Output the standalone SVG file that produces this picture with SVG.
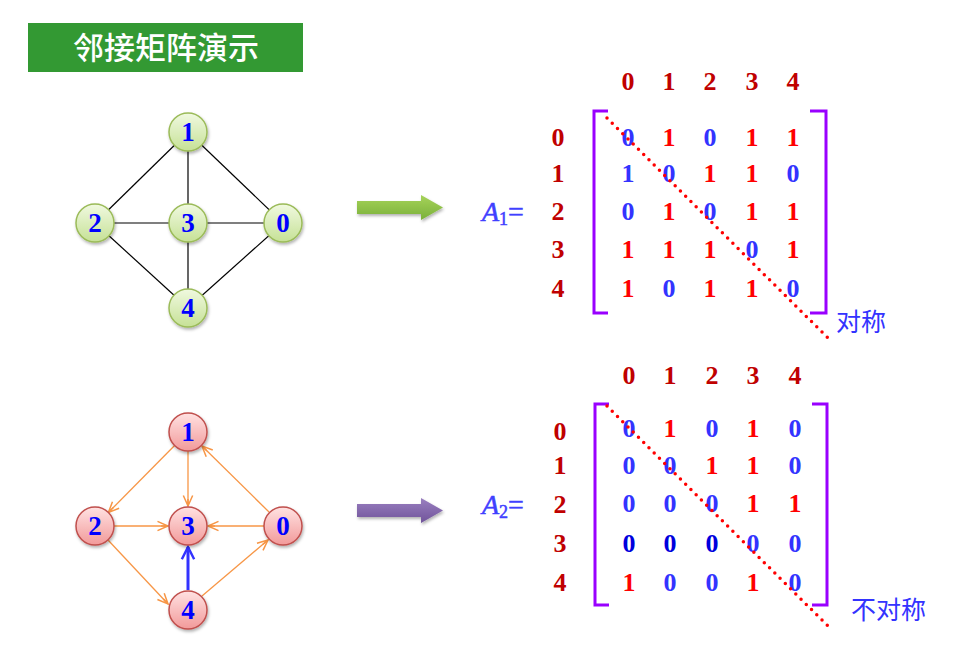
<svg xmlns="http://www.w3.org/2000/svg" width="954" height="659" viewBox="0 0 954 659">
<style>
.title{font-family:"Noto Sans CJK SC","Noto Sans",sans-serif;font-size:31px;fill:#fff;font-weight:500}
.nl{font-family:"Liberation Serif",serif;font-size:27px;font-weight:bold;fill:#0000ff;text-anchor:middle}
.hd{font-family:"Liberation Serif",serif;font-size:26px;font-weight:bold;fill:#c00000;text-anchor:middle}
.one{font-family:"Liberation Serif",serif;font-size:26px;font-weight:bold;fill:#ff0000;text-anchor:middle}
.zero{font-family:"Liberation Serif",serif;font-size:26px;font-weight:bold;fill:#3333ff;text-anchor:middle}
.zd{fill:#0000dd}
.an{font-family:"Liberation Serif",serif;font-size:28px;fill:#4040ff;stroke:#4040ff;stroke-width:0.5}
.cn{font-family:"Noto Sans CJK SC",sans-serif;font-size:25px;fill:#3333ff}
.br{fill:none;stroke:#9900ff;stroke-width:3}
.dot{stroke:#ff0000;stroke-width:3.5;stroke-linecap:round;stroke-dasharray:0 7.4}
.ue{stroke:#000;stroke-width:1.2}
.de{stroke:#f79646;stroke-width:1.3;marker-end:url(#ao)}
.gn{fill:url(#gg);stroke:#9bbb59;stroke-width:1.5}
.pn{fill:url(#pg);stroke:#c0504d;stroke-width:1.5}
</style>
<defs>
<linearGradient id="gg" x1="0" y1="0" x2="0" y2="1"><stop offset="0" stop-color="#f0f9e0"/><stop offset="1" stop-color="#c6e196"/></linearGradient>
<linearGradient id="pg" x1="0" y1="0" x2="0" y2="1"><stop offset="0" stop-color="#ffe2e2"/><stop offset="1" stop-color="#f29a9a"/></linearGradient>
<linearGradient id="ga" x1="0" y1="0" x2="0" y2="1"><stop offset="0" stop-color="#a6d35a"/><stop offset="1" stop-color="#7ab03a"/></linearGradient>
<linearGradient id="pa" x1="0" y1="0" x2="0" y2="1"><stop offset="0" stop-color="#9a7fc0"/><stop offset="1" stop-color="#70549a"/></linearGradient>
<filter id="sh" x="-30%" y="-30%" width="160%" height="160%"><feDropShadow dx="1" dy="2" stdDeviation="1.5" flood-color="#000" flood-opacity="0.3"/></filter>
<marker id="ao" markerUnits="userSpaceOnUse" markerWidth="14" markerHeight="14" refX="10" refY="5" orient="auto" viewBox="0 0 12 10"><path d="M1,1 L10,5 L1,9 M10,5 L4,5" fill="none" stroke="#f79646" stroke-width="1.3"/></marker>
<marker id="ab" markerUnits="userSpaceOnUse" markerWidth="16" markerHeight="16" refX="11" refY="6" orient="auto" viewBox="0 0 13 12"><path d="M1,1 L11,6 L1,11" fill="none" stroke="#3333ff" stroke-width="2"/></marker>
</defs>

<g id="title">
<rect x="28" y="23" width="275" height="49" fill="#339933"/>
<text class="title" x="166" y="59" text-anchor="middle">邻接矩阵演示</text>
</g>

<g id="connectors">
<g id="undirected">
<line class="ue" x1="188" y1="132" x2="95" y2="223"/>
<line class="ue" x1="188" y1="132" x2="188" y2="223"/>
<line class="ue" x1="188" y1="132" x2="283" y2="223"/>
<line class="ue" x1="95" y1="223" x2="283" y2="223"/>
<line class="ue" x1="95" y1="223" x2="188" y2="308"/>
<line class="ue" x1="188" y1="223" x2="188" y2="308"/>
<line class="ue" x1="283" y1="223" x2="188" y2="308"/>
</g>
<g id="directed">
<line class="de" x1="174.6" y1="445.5" x2="108.4" y2="512.5"/>
<line class="de" x1="188" y1="451" x2="188" y2="506"/>
<line class="de" x1="269" y1="512" x2="202" y2="446"/>
<line class="de" x1="114" y1="526" x2="168" y2="526"/>
<line class="de" x1="264" y1="526" x2="208" y2="526"/>
<line class="de" x1="108" y1="540" x2="168" y2="604"/>
<line class="de" x1="202" y1="596" x2="268" y2="540"/>
<line x1="188" y1="590" x2="188" y2="547" stroke="#3333ff" stroke-width="3" marker-end="url(#ab)"/>
</g>
</g>

<g id="graph1">
<g id="u1"><circle class="gn" cx="188" cy="132" r="19" filter="url(#sh)"/><text class="nl" x="188" y="141">1</text></g>
<g id="u2"><circle class="gn" cx="95" cy="223" r="19" filter="url(#sh)"/><text class="nl" x="95" y="232">2</text></g>
<g id="u3"><circle class="gn" cx="188" cy="223" r="19" filter="url(#sh)"/><text class="nl" x="188" y="232">3</text></g>
<g id="u0"><circle class="gn" cx="283" cy="223" r="19" filter="url(#sh)"/><text class="nl" x="283" y="232">0</text></g>
<g id="u4"><circle class="gn" cx="188" cy="308" r="19" filter="url(#sh)"/><text class="nl" x="188" y="317">4</text></g>
</g>

<g id="graph2">
<g id="d1"><circle class="pn" cx="188" cy="432" r="19" filter="url(#sh)"/><text class="nl" x="188" y="441">1</text></g>
<g id="d2"><circle class="pn" cx="95" cy="526" r="19" filter="url(#sh)"/><text class="nl" x="95" y="535">2</text></g>
<g id="d3"><circle class="pn" cx="188" cy="526" r="19" filter="url(#sh)"/><text class="nl" x="188" y="535">3</text></g>
<g id="d0"><circle class="pn" cx="283" cy="526" r="19" filter="url(#sh)"/><text class="nl" x="283" y="535">0</text></g>
<g id="d4"><circle class="pn" cx="188" cy="610" r="19" filter="url(#sh)"/><text class="nl" x="188" y="619">4</text></g>
</g>

<g id="arrow1" filter="url(#sh)"><path d="M357,201 H421 V195 L443,207.5 L421,220 V214 H357 Z" fill="url(#ga)"/></g>
<g id="arrow2" filter="url(#sh)"><path d="M357,504 H421 V498 L443,510.5 L421,523 V517 H357 Z" fill="url(#pa)"/></g>

<g id="matrix1">
<g class="hd"><text x="628" y="90">0</text><text x="669" y="90">1</text><text x="710" y="90">2</text><text x="752" y="90">3</text><text x="793" y="90">4</text>
<text x="558" y="146">0</text><text x="558" y="182">1</text><text x="558" y="220">2</text><text x="558" y="258">3</text><text x="558" y="297">4</text></g>
<text class="an" x="482" y="221"><tspan font-style="italic">A</tspan><tspan font-size="18" dy="4">1</tspan><tspan dy="-4">=</tspan></text>
<path class="br" d="M608,111 H594 V313 H608"/>
<path class="br" d="M810,111 H826 V313 H810"/>
<g>
<text class="zero" x="628" y="146">0</text><text class="one" x="669" y="146">1</text><text class="zero" x="710" y="146">0</text><text class="one" x="752" y="146">1</text><text class="one" x="793" y="146">1</text>
<text class="zero" x="628" y="182">1</text><text class="zero" x="669" y="182">0</text><text class="one" x="710" y="182">1</text><text class="one" x="752" y="182">1</text><text class="zero" x="793" y="182">0</text>
<text class="zero" x="628" y="220">0</text><text class="one" x="669" y="220">1</text><text class="zero" x="710" y="220">0</text><text class="one" x="752" y="220">1</text><text class="one" x="793" y="220">1</text>
<text class="one" x="628" y="258">1</text><text class="one" x="669" y="258">1</text><text class="one" x="710" y="258">1</text><text class="zero" x="752" y="258">0</text><text class="one" x="793" y="258">1</text>
<text class="one" x="628" y="297">1</text><text class="zero" x="669" y="297">0</text><text class="one" x="710" y="297">1</text><text class="one" x="752" y="297">1</text><text class="zero" x="793" y="297">0</text>
</g>
<line class="dot" x1="607" y1="118" x2="832" y2="342"/>
<text class="cn" x="836" y="331">对称</text>
</g>

<g id="matrix2">
<g class="hd"><text x="629" y="384">0</text><text x="670" y="384">1</text><text x="712" y="384">2</text><text x="753" y="384">3</text><text x="795" y="384">4</text>
<text x="560" y="440">0</text><text x="560" y="474">1</text><text x="560" y="513">2</text><text x="560" y="552">3</text><text x="560" y="591">4</text></g>
<text class="an" x="482" y="514"><tspan font-style="italic">A</tspan><tspan font-size="18" dy="4">2</tspan><tspan dy="-4">=</tspan></text>
<path class="br" d="M609,404 H595 V605 H609"/>
<path class="br" d="M812,404 H827 V605 H812"/>
<g>
<text class="zero" x="629" y="437">0</text><text class="one" x="670" y="437">1</text><text class="zero" x="712" y="437">0</text><text class="one" x="753" y="437">1</text><text class="zero" x="795" y="437">0</text>
<text class="zero" x="629" y="474">0</text><text class="zero" x="670" y="474">0</text><text class="one" x="712" y="474">1</text><text class="one" x="753" y="474">1</text><text class="zero" x="795" y="474">0</text>
<text class="zero" x="629" y="512">0</text><text class="zero" x="670" y="512">0</text><text class="zero" x="712" y="512">0</text><text class="one" x="753" y="512">1</text><text class="one" x="795" y="512">1</text>
<text class="zero zd" x="629" y="552">0</text><text class="zero zd" x="670" y="552">0</text><text class="zero zd" x="712" y="552">0</text><text class="zero" x="753" y="552">0</text><text class="zero" x="795" y="552">0</text>
<text class="one" x="629" y="591">1</text><text class="zero" x="670" y="591">0</text><text class="zero" x="712" y="591">0</text><text class="one" x="753" y="591">1</text><text class="zero" x="795" y="591">0</text>
</g>
<line class="dot" x1="607" y1="406" x2="831" y2="629"/>
<text class="cn" x="851" y="619">不对称</text>
</g>
</svg>
